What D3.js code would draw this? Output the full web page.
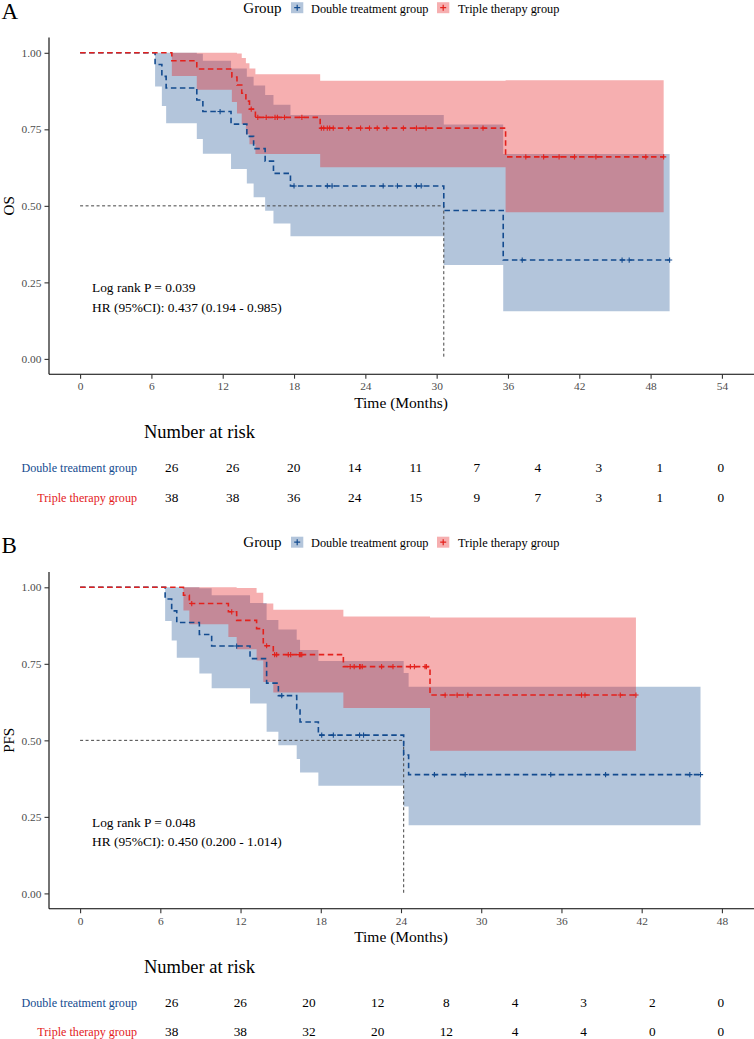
<!DOCTYPE html>
<html>
<head>
<meta charset="utf-8">
<script src="https://cdn.jsdelivr.net/npm/d3@7/dist/d3.min.js"></script>
<style>
  body { margin: 0; background: #fff; }
  svg text { font-family: "Liberation Serif", "DejaVu Serif", serif; }
  .axis path, .axis line { stroke: #000; stroke-width: 1.1; }
  .axis .tick line { stroke: #333; }
  .axis text { fill: #4d4d4d; font-size: 11.4px; }
</style>
</head>
<body>
<script>
// ---- data ----
var groups = ["Double treatment group", "Triple therapy group"];

// A: OS
var osDblTime  = [0, 6.31, 6.88, 7.24, 9.82, 10.33, 12.7, 14.03, 14.6, 15.57, 16.27, 17.7, 30.6, 35.6];
var osDblSurv  = [1, 0.962, 0.923, 0.885, 0.846, 0.808, 0.767, 0.727, 0.687, 0.646, 0.606, 0.565, 0.485, 0.323];
var osDblUpper = [1, 1, 1, 1, 0.997, 0.974, 0.949, 0.922, 0.893, 0.862, 0.830, 0.797, 0.766, 0.669];
var osDblLower = [1, 0.890, 0.826, 0.770, 0.718, 0.670, 0.620, 0.573, 0.528, 0.484, 0.442, 0.401, 0.307, 0.156];
var osDblEnd = 49.6;
var osDblCensor = [11.78, 18.0, 20.8, 21.2, 25.5, 26.7, 28.3, 28.7, 37.2, 45.6, 46.2, 49.6];

var osTriTime  = [0, 7.72, 9.82, 12.77, 13.2, 13.6, 13.95, 14.25, 14.75, 20.2, 35.8];
var osTriSurv  = [1, 0.974, 0.947, 0.921, 0.895, 0.868, 0.842, 0.816, 0.789, 0.754, 0.660];
var osTriUpper = [1, 1, 1, 1, 0.998, 0.983, 0.966, 0.949, 0.930, 0.909, 0.910];
var osTriLower = [1, 0.924, 0.879, 0.839, 0.802, 0.767, 0.734, 0.701, 0.669, 0.626, 0.479];
var osTriEnd = 49.1;
var osTriCensor = [14.4, 14.95, 15.66, 16.4, 16.6, 17.2, 18.66, 20.3, 20.5, 20.8, 21.0, 21.3, 22.6, 23.6,
                   24.35, 25.0, 25.8, 27.2, 28.3, 29.1, 33.9, 37.5, 39.0, 40.3, 41.6, 43.4, 47.6, 49.1];

var osTicks = [0, 6, 12, 18, 24, 30, 36, 42, 48, 54];
var osRiskDbl = [26, 26, 20, 14, 11, 7, 4, 3, 1, 0];
var osRiskTri = [38, 38, 36, 24, 15, 9, 7, 3, 1, 0];

// B: PFS
var pfsDblTime  = [0, 6.36, 6.85, 7.23, 8.92, 9.84, 12.71, 13.95, 14.83, 16.2, 16.45, 17.82, 24.2, 24.57];
var pfsDblSurv  = [1, 0.962, 0.923, 0.885, 0.846, 0.808, 0.767, 0.687, 0.646, 0.603, 0.560, 0.517, 0.452, 0.388];
var pfsDblUpper = [1, 1, 1, 1, 0.997, 0.974, 0.949, 0.893, 0.862, 0.829, 0.795, 0.759, 0.720, 0.675];
var pfsDblLower = [1, 0.890, 0.826, 0.770, 0.718, 0.670, 0.620, 0.528, 0.484, 0.439, 0.395, 0.352, 0.284, 0.223];
var pfsDblEnd = 46.4;
var pfsDblCensor = [11.71, 15.08, 18.07, 18.94, 20.9, 21.2, 26.5, 28.8, 35.2, 39.3, 45.6, 46.4];

var pfsTriTime  = [0, 7.73, 8.17, 11.09, 11.71, 13.2, 13.7, 14.45, 19.69, 26.17];
var pfsTriSurv  = [1, 0.974, 0.947, 0.920, 0.892, 0.865, 0.809, 0.780, 0.741, 0.648];
var pfsTriUpper = [1, 1, 1, 1, 0.998, 0.982, 0.947, 0.927, 0.905, 0.901];
var pfsTriLower = [1, 0.924, 0.879, 0.838, 0.798, 0.761, 0.691, 0.656, 0.606, 0.466];
var pfsTriEnd = 41.57;
var pfsTriCensor = [8.35, 11.34, 13.95, 14.55, 14.7, 15.57, 15.75, 16.4, 16.5, 16.58, 20.2, 20.5, 20.9, 20.95,
                    21.1, 22.55, 23.4, 24.7, 25.0, 25.8, 25.9, 27.3, 28.2, 29.0, 37.5, 37.76, 40.4, 41.57];

var pfsTicks = [0, 6, 12, 18, 24, 30, 36, 42, 48];
var pfsRiskDbl = [26, 26, 20, 12, 8, 4, 3, 2, 0];
var pfsRiskTri = [38, 38, 32, 20, 12, 4, 4, 0, 0];

var yTicks = [0, 0.25, 0.5, 0.75, 1];
var colors = ["#134b8f", "#e3211c"];
var fills = ["#124c8e", "#e41a1c"];

// ---- drawing ----
var w = 754, h = 1039;
var svg = d3.select("body").append("svg")
    .attr("width", w)
    .attr("height", h);

function series(time, surv, upper, lower, end, censor) {
  var pts = time.map(function(t, i) {
    return {t: t, s: surv[i], hi: upper[i], lo: lower[i]};
  });
  var last = pts[pts.length - 1];
  pts.push({t: end, s: last.s, hi: last.hi, lo: last.lo});
  return {time: time, surv: surv, pts: pts, censor: censor};
}

function survAt(sr, t) {
  var i = d3.bisectRight(sr.time, t) - 1;
  return sr.surv[Math.max(0, i)];
}

function drawPanel(p) {
  var g = svg.append("g").attr("transform", "translate(0," + p.top + ")");

  var x = d3.scaleLinear().domain(p.xDomain).range([48, 754]);
  var y = d3.scaleLinear().domain([-0.05, 1.05]).range([337, 0.3]);

  // panel letter + legend
  g.append("text").attr("x", 1.5).attr("y", -18.6)
      .style("font-size", "23px").text(p.letter);
  var lg = g.append("g").attr("transform", "translate(0,-24.5)");
  lg.append("text").attr("x", 243.3).attr("y", 0).style("font-size", "15px").text("Group");
  var keyX = [291, 437], labX = [311, 458];
  groups.forEach(function(name, i) {
    lg.append("rect").attr("x", keyX[i]).attr("y", -10.5).attr("width", 12.3).attr("height", 11)
        .attr("fill", fills[i]).attr("fill-opacity", i == 0 ? 0.32 : 0.35);
    lg.append("path").attr("d", "M" + (keyX[i] + 3.2) + "," + (-5) + "h6M" + (keyX[i] + 6.2) + "," + (-8) + "v6")
        .attr("stroke", colors[i]).attr("stroke-width", 1.2);
    lg.append("text").attr("x", labX[i]).attr("y", 0).style("font-size", "12.3px").text(name);
  });

  // confidence bands
  var band = d3.area().curve(d3.curveStepAfter)
      .x(function(d) { return x(d.t); })
      .y0(function(d) { return y(d.lo); })
      .y1(function(d) { return y(d.hi); });
  p.series.forEach(function(sr, i) {
    g.append("path").attr("d", band(sr.pts))
        .attr("fill", fills[i]).attr("fill-opacity", i == 0 ? 0.32 : 0.35);
  });

  // median reference lines
  var blue = p.series[0];
  var mi = blue.surv.findIndex(function(s) { return s <= 0.5; });
  var med = blue.time[mi];
  g.append("path")
      .attr("d", "M" + x(0) + "," + y(0.5) + "H" + x(med) + "V" + y(0))
      .attr("fill", "none").attr("stroke", "#444").attr("stroke-width", 1)
      .attr("stroke-dasharray", "3,2.5");

  // survival curves
  var line = d3.line().curve(d3.curveStepAfter)
      .x(function(d) { return x(d.t); })
      .y(function(d) { return y(d.s); });
  p.series.forEach(function(sr, i) {
    g.append("path").attr("d", line(sr.pts))
        .attr("fill", "none").attr("stroke", colors[i]).attr("stroke-width", 1.6)
        .attr("stroke-dasharray", "5.5,3.5");
  });
  p.series.forEach(function(sr, i) {
    g.selectAll(".cens" + i)
        .data(sr.censor)
        .enter()
        .append("path")
        .attr("class", "cens" + i)
        .attr("transform", function(d) { return "translate(" + x(d) + "," + y(survAt(sr, d)) + ")"; })
        .attr("d", "M-2.6,0H2.6M0,-2.6V2.6")
        .attr("stroke", colors[i]).attr("stroke-width", 1.1);
  });

  // axes
  g.append("g").attr("class", "axis")
      .attr("transform", "translate(49,0)")
      .call(d3.axisLeft(y).tickValues(yTicks).tickFormat(d3.format(".2f"))
          .tickSize(4.5).tickSizeOuter(0).tickPadding(3));
  g.append("g").attr("class", "axis")
      .attr("transform", "translate(0," + y(-0.05) + ")")
      .call(d3.axisBottom(x).tickValues(p.ticks).tickFormat(d3.format("d"))
          .tickSize(4.5).tickSizeOuter(0).tickPadding(3.5));
  g.selectAll(".axis .domain").attr("d", function() {
    return d3.select(this.parentNode).attr("transform") == "translate(49,0)"
      ? "M0," + y(1.05) + "V" + y(-0.05)
      : "M49,0H754";
  });

  g.append("text")
      .attr("transform", "translate(13.5," + y(0.5) + ") rotate(-90)")
      .attr("text-anchor", "middle").style("font-size", "15px").text(p.yLabel);
  g.append("text").attr("x", 401).attr("y", 370.5)
      .attr("text-anchor", "middle").style("font-size", "15.5px").text("Time (Months)");

  g.append("text").attr("x", 92).attr("y", 255.3).style("font-size", "13.4px").text(p.pText);
  g.append("text").attr("x", 92).attr("y", 274.7).style("font-size", "13.4px").text(p.hrText);

  // number at risk table
  var tx = d3.scaleLinear().domain(p.xDomain).range([144.2, 748.4]);
  g.append("text").attr("x", 144).attr("y", 401).style("font-size", "18.5px").text("Number at risk");
  var rowY = [435.3, 464.6];
  [p.riskDbl, p.riskTri].forEach(function(row, i) {
    g.append("text").attr("x", 137).attr("y", rowY[i]).attr("text-anchor", "end")
        .attr("fill", colors[i]).style("font-size", "12.1px").text(groups[i]);
    g.selectAll(".risk" + i)
        .data(row)
        .enter()
        .append("text")
        .attr("class", "risk" + i)
        .attr("x", function(d, j) { return tx(p.ticks[j]); })
        .attr("y", rowY[i])
        .attr("text-anchor", "middle")
        .style("font-size", "13.3px")
        .text(function(d) { return d; });
  });
}

drawPanel({
  top: 37.2,
  letter: "A",
  yLabel: "OS",
  xDomain: [-2.7, 56.7],
  ticks: osTicks,
  series: [
    series(osDblTime, osDblSurv, osDblUpper, osDblLower, osDblEnd, osDblCensor),
    series(osTriTime, osTriSurv, osTriUpper, osTriLower, osTriEnd, osTriCensor)
  ],
  pText: "Log rank P = 0.039",
  hrText: "HR (95%CI): 0.437 (0.194 - 0.985)",
  riskDbl: osRiskDbl,
  riskTri: osRiskTri
});

drawPanel({
  top: 571.7,
  letter: "B",
  yLabel: "PFS",
  xDomain: [-2.4, 50.4],
  ticks: pfsTicks,
  series: [
    series(pfsDblTime, pfsDblSurv, pfsDblUpper, pfsDblLower, pfsDblEnd, pfsDblCensor),
    series(pfsTriTime, pfsTriSurv, pfsTriUpper, pfsTriLower, pfsTriEnd, pfsTriCensor)
  ],
  pText: "Log rank P = 0.048",
  hrText: "HR (95%CI): 0.450 (0.200 - 1.014)",
  riskDbl: pfsRiskDbl,
  riskTri: pfsRiskTri
});
</script>
</body>
</html>
